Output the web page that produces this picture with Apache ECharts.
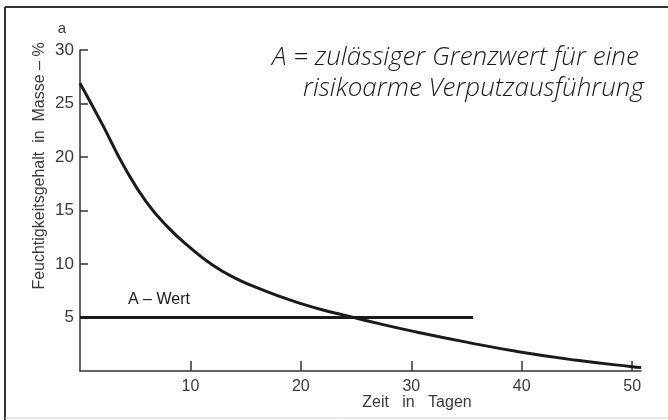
<!DOCTYPE html>
<html>
<head>
<meta charset="utf-8">
<script src="https://cdn.jsdelivr.net/npm/echarts@6/dist/echarts.min.js"></script>
<style>
html,body{margin:0;padding:0;background:#fff;}
#chart{width:668px;height:420px;}
</style>
</head>
<body>
<div id="chart"></div>
<script>
// Data
const days = [0, 2, 4, 6, 8, 10, 12, 14, 16, 18, 20, 22, 24, 27, 30, 35, 40, 45, 50, 50.8];
const moisture = [26.9, 23.1, 19.1, 15.8, 13.4, 11.5, 9.9, 8.7, 7.8, 7.0, 6.3, 5.7, 5.2, 4.45, 3.75, 2.7, 1.75, 1.0, 0.4, 0.33];
const aWertDays = [0, 35.6];
const aWertValues = [5, 5];
const xTickValues = [10, 20, 30, 40, 50];
const yTickValues = [5, 10, 15, 20, 25, 30];

const yAxisTitle = 'Feuchtigkeitsgehalt  in  Masse – %';
const xAxisTitle = 'Zeit   in   Tagen';
const noteLine1 = 'A = zulässiger Grenzwert für eine';
const noteLine2 = 'risikoarme Verputzausführung';
const aWertLabel = 'A – Wert';
const cornerLetter = 'a';

const curve = days.map((d, i) => [d, moisture[i]]);
const aLine = aWertDays.map((d, i) => [d, aWertValues[i]]);

const ink = '#1a1a1a';
const textCol = '#3a3a3a';
const fontFam = '"Liberation Sans", Arial, sans-serif';
const noteFont = 'italic 300 26px "Open Sans", sans-serif';

const chart = echarts.init(document.getElementById('chart'), null, {renderer: 'canvas'});
chart.setOption({
  animation: false,
  backgroundColor: '#ffffff',
  grid: {left: 80, right: 27, top: 50, bottom: 49, containLabel: false},
  xAxis: {
    type: 'value', min: 0, max: 50.8,
    axisLine: {show: true, lineStyle: {color: '#333', width: 1.5}},
    axisTick: {show: true, inside: true, length: 10, customValues: xTickValues, lineStyle: {color: '#333', width: 1.5}},
    axisLabel: {show: true, customValues: xTickValues, color: textCol, fontSize: 16, fontFamily: fontFam, margin: 8},
    splitLine: {show: false}
  },
  yAxis: {
    type: 'value', min: 0, max: 30, interval: 5,
    axisLine: {show: true, lineStyle: {color: '#333', width: 1.5}},
    axisTick: {show: true, inside: true, length: 8, customValues: yTickValues, lineStyle: {color: '#333', width: 1.5}},
    axisLabel: {show: true, customValues: yTickValues, color: textCol, fontSize: 17, fontFamily: fontFam, margin: 6},
    splitLine: {show: false}
  },
  series: [
    {
      type: 'line', data: curve, smooth: true, symbol: 'none', clip: false,
      lineStyle: {color: ink, width: 3}
    },
    {
      type: 'line', data: aLine, symbol: 'none',
      lineStyle: {color: ink, width: 3}
    }
  ],
  graphic: [
    {type: 'line', shape: {x1: 5, y1: 7, x2: 668, y2: 7}, style: {stroke: '#333', lineWidth: 2}, silent: true},
    {type: 'line', shape: {x1: 5, y1: 7, x2: 5, y2: 420}, style: {stroke: '#333', lineWidth: 2}, silent: true},
    {type: 'line', shape: {x1: 5, y1: 418, x2: 668, y2: 418}, style: {stroke: '#cfcfcf', lineWidth: 1}, silent: true},
    {type: 'text', x: 40, y: 166, rotation: Math.PI / 2,
      style: {text: yAxisTitle, fill: textCol, font: '16px ' + fontFam, align: 'center', verticalAlign: 'middle'}},
    {type: 'text', x: 62, y: 29,
      style: {text: cornerLetter, fill: textCol, font: '15px ' + fontFam, align: 'center', verticalAlign: 'middle'}},
    {type: 'text', x: 417, y: 403,
      style: {text: xAxisTitle, fill: textCol, font: '16px ' + fontFam, align: 'center', verticalAlign: 'middle'}},
    {type: 'text', x: 272, y: 58,
      style: {text: noteLine1, fill: ink, font: noteFont, align: 'left', verticalAlign: 'middle'}},
    {type: 'text', x: 303, y: 89,
      style: {text: noteLine2, fill: ink, font: noteFont, align: 'left', verticalAlign: 'middle'}},
    {type: 'text', x: 128, y: 300,
      style: {text: aWertLabel, fill: ink, font: '16px ' + fontFam, align: 'left', verticalAlign: 'middle'}}
  ]
});
</script>
</body>
</html>
